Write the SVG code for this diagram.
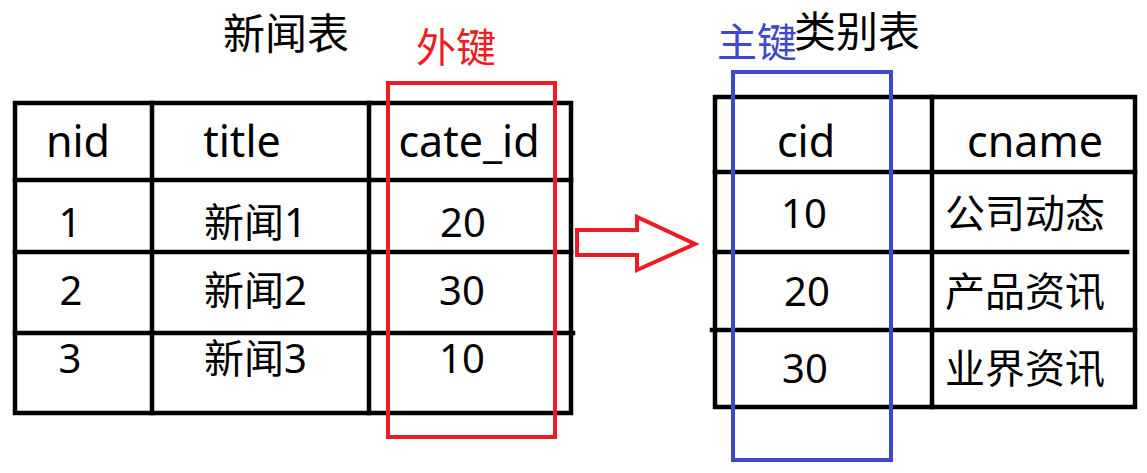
<svg xmlns="http://www.w3.org/2000/svg" width="1147" height="473" viewBox="0 0 1147 473">
<style>
.t{font-family:"Noto Sans","Noto Sans CJK SC",sans-serif;font-size:40px;fill:#000}
.h{font-family:"Noto Sans",sans-serif;font-size:43px;fill:#000;text-anchor:middle}
.c{text-anchor:middle}
.ttl{font-family:"Noto Sans CJK SC","Noto Sans",sans-serif;font-size:42px;fill:#000}
.grid{stroke:#000;stroke-width:4.5;fill:none;stroke-linecap:square}
.key{font-family:"Noto Sans CJK SC",sans-serif;font-size:40px}
</style>
<rect width="1147" height="473" fill="#fff"/>
<g id="news-table">
<text class="ttl" x="223" y="49">新闻表</text>
<g class="grid">
<rect x="15" y="103" width="556" height="310"/>
<line x1="152" y1="103" x2="152" y2="413"/>
<line x1="369" y1="103" x2="369" y2="413"/>
<line x1="15" y1="180" x2="571" y2="180"/>
<line x1="15" y1="252" x2="571" y2="252"/>
<line x1="15" y1="333" x2="573" y2="333"/>
</g>
<text class="h" x="78" y="157">nid</text>
<text class="h" x="242" y="157">title</text>
<text class="h" x="469" y="157">cate_id</text>
<text class="t c" x="70" y="237">1</text>
<text class="t" x="204" y="237">新闻1</text>
<text class="t c" x="463" y="237">20</text>
<text class="t c" x="71" y="305">2</text>
<text class="t" x="204" y="305">新闻2</text>
<text class="t c" x="462" y="305">30</text>
<text class="t c" x="70" y="373">3</text>
<text class="t" x="204" y="373">新闻3</text>
<text class="t c" x="462" y="373">10</text>
</g>
<g id="foreign-key">
<rect x="388" y="83" width="167" height="354" fill="none" stroke="#ED1C24" stroke-width="4"/>
<text class="key" x="416" y="62" fill="#ED1C24">外键</text>
</g>
<g id="category-table">
<text class="ttl" x="794" y="47">类别表</text>
<g class="grid">
<rect x="715" y="97" width="420" height="310"/>
<line x1="932" y1="97" x2="932" y2="407"/>
<line x1="715" y1="172" x2="1135" y2="172"/>
<line x1="715" y1="252" x2="1127" y2="252"/>
<line x1="712" y1="330" x2="1135" y2="330"/>
</g>
<text class="h" x="806" y="157">cid</text>
<text class="h" x="1035" y="157">cname</text>
<text class="t c" x="804" y="228">10</text>
<text class="t" x="945" y="228">公司动态</text>
<text class="t c" x="807" y="306">20</text>
<text class="t" x="945" y="306">产品资讯</text>
<text class="t c" x="805" y="383">30</text>
<text class="t" x="945" y="383">业界资讯</text>
</g>
<g id="primary-key">
<rect x="733" y="72" width="158" height="388" fill="none" stroke="#3F48CC" stroke-width="4"/>
<text class="key" x="717" y="57" fill="#3F48CC">主键</text>
</g>
<g id="connectors">
<polygon points="577,230 637,230 637,217 695,244 637,270 637,255 577,255" fill="none" stroke="#ED1C24" stroke-width="4" stroke-linejoin="miter"/>
</g>
</svg>
